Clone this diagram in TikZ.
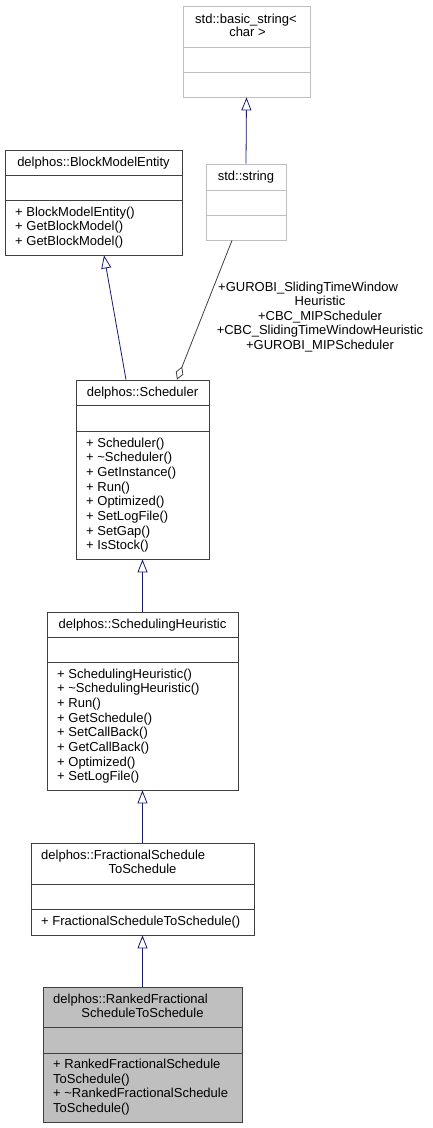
\documentclass[tikz,border=0pt]{standalone}
\usepackage{fontspec}
\setmainfont{Liberation Sans}
\usepackage{xcolor}
\usetikzlibrary{arrows.meta}
\definecolor{edgeblue}{HTML}{191970}
\definecolor{boxgray}{HTML}{404040}
\definecolor{lightgray}{HTML}{BFBFBF}
\definecolor{curfill}{HTML}{BFBFBF}

\tikzset{
    cls/.style={draw=boxgray, line width=0.8pt, rectangle, inner sep=0pt},
    extcls/.style={cls, draw=lightgray},
    txt/.style={inner sep=0pt, font=\fontsize{13}{14.7}\selectfont},
    inherit/.style={draw=edgeblue, line width=0.8pt, -{Triangle[open, length=13pt, width=10pt, fill=white]}},
    aggr/.style={draw=boxgray, line width=0.8pt, {Diamond[open, length=14pt, width=8pt, fill=white]}-}
}

\begin{document}
\begin{tikzpicture}[x=1pt, y=-1pt]
    \useasboundingbox (0,0) rectangle (432,1128);

    % Class boxes (outer frames)
    \node[extcls, minimum width=127pt, minimum height=91pt] (basic) at (246.5,51.5) {};
    \node[extcls, minimum width=80pt, minimum height=76pt] (string) at (246,202) {};
    \node[cls, minimum width=177pt, minimum height=105pt] (bme) at (93.5,202.5) {};
    \node[cls, minimum width=133pt, minimum height=179pt] (sched) at (142.5,469.5) {};
    \node[cls, minimum width=191pt, minimum height=178pt] (heur) at (142.5,701) {};
    \node[cls, minimum width=223pt, minimum height=92pt] (frac) at (142.5,889) {};
    \node[cls, fill=curfill, minimum width=199pt, minimum height=135pt] (ranked) at (142.5,1054.5) {};

    % Compartment lines
    \foreach \cls/\ya/\yb/\col in {basic/47/72/lightgray, string/190/215/lightgray, bme/175/200/boxgray, sched/405/431/boxgray, heur/637/662/boxgray, frac/884/909/boxgray, ranked/1027/1053/boxgray} {
        \draw[\col, line width=0.8pt] (\cls.west |- 0,\ya) -- (\cls.east |- 0,\ya);
        \draw[\col, line width=0.8pt] (\cls.west |- 0,\yb) -- (\cls.east |- 0,\yb);
    }

    % Class names
    \node[txt, anchor=base] (basicn1) at (246,23) {std::basic\_string<};
    \node[txt, anchor=base] (basicn2) at (247.5,36.7) {char >};
    \node[txt, anchor=base] (stringn) at (246,180) {std::string};
    \node[txt, anchor=base] (bmen) at (93.5,166) {delphos::BlockModelEntity};
    \node[txt, anchor=base] (schedn) at (142.5,396) {delphos::Scheduler};
    \node[txt, anchor=base] (heurn) at (142.5,628) {delphos::SchedulingHeuristic};
    \node[txt, anchor=base west] (fracn1) at (41,859) {delphos::FractionalSchedule};
    \node[txt, anchor=base] (fracn2) at (142.5,873.7) {ToSchedule};
    \node[txt, anchor=base west] (rankedn1) at (53,1003) {delphos::RankedFractional};
    \node[txt, anchor=base] (rankedn2) at (142.5,1017.7) {ScheduleToSchedule};

    % Methods
    \foreach \m [count=\i from 0] in {BlockModelEntity(), GetBlockModel(), GetBlockModel()} {
        \node[txt, anchor=base west] (bmem\i) at (15,{216+\i*14.6}) {+ \m};
    }
    \foreach \m [count=\i from 0] in {Scheduler(), \textasciitilde Scheduler(), GetInstance(), Run(), Optimized(), SetLogFile(), SetGap(), IsStock()} {
        \node[txt, anchor=base west] (schedm\i) at (86,{447+\i*14.7}) {+ \m};
    }
    \foreach \m [count=\i from 0] in {SchedulingHeuristic(), \textasciitilde SchedulingHeuristic(), Run(), GetSchedule(), SetCallBack(), GetCallBack(), Optimized(), SetLogFile()} {
        \node[txt, anchor=base west] (heurm\i) at (57,{678+\i*14.7}) {+ \m};
    }
    \node[txt, anchor=base west] (fracm0) at (41,925) {+ FractionalScheduleToSchedule()};
    \foreach \m [count=\i from 0] in {+ RankedFractionalSchedule, ToSchedule(), + \textasciitilde RankedFractionalSchedule, ToSchedule()} {
        \node[txt, anchor=base west] (rankedm\i) at (53,{1068.5+\i*14.6}) {\m};
    }

    % Inheritance edges
    \draw[inherit] (string.north) -- (basic.south);
    \draw[inherit] (sched.north -| 126,0) -- (bme.south -| 104,0);
    \draw[inherit] (heur.north) -- (sched.south);
    \draw[inherit] (frac.north) -- (heur.south);
    \draw[inherit] (ranked.north) -- (frac.south);

    % Usage edge with member names
    \draw[aggr] (sched.north -| 177,0) -- (string.south -| 232,0);
    \node[txt, anchor=base west] (usel1) at (218,291) {+GUROBI\_SlidingTimeWindow};
    \foreach \l [count=\i from 2] in {Heuristic, +CBC\_MIPScheduler, +CBC\_SlidingTimeWindowHeuristic, +GUROBI\_MIPScheduler} {
        \node[txt, anchor=base] (usel\i) at (320,{291+(\i-1)*14.6}) {\l};
    }
\end{tikzpicture}
\end{document}
